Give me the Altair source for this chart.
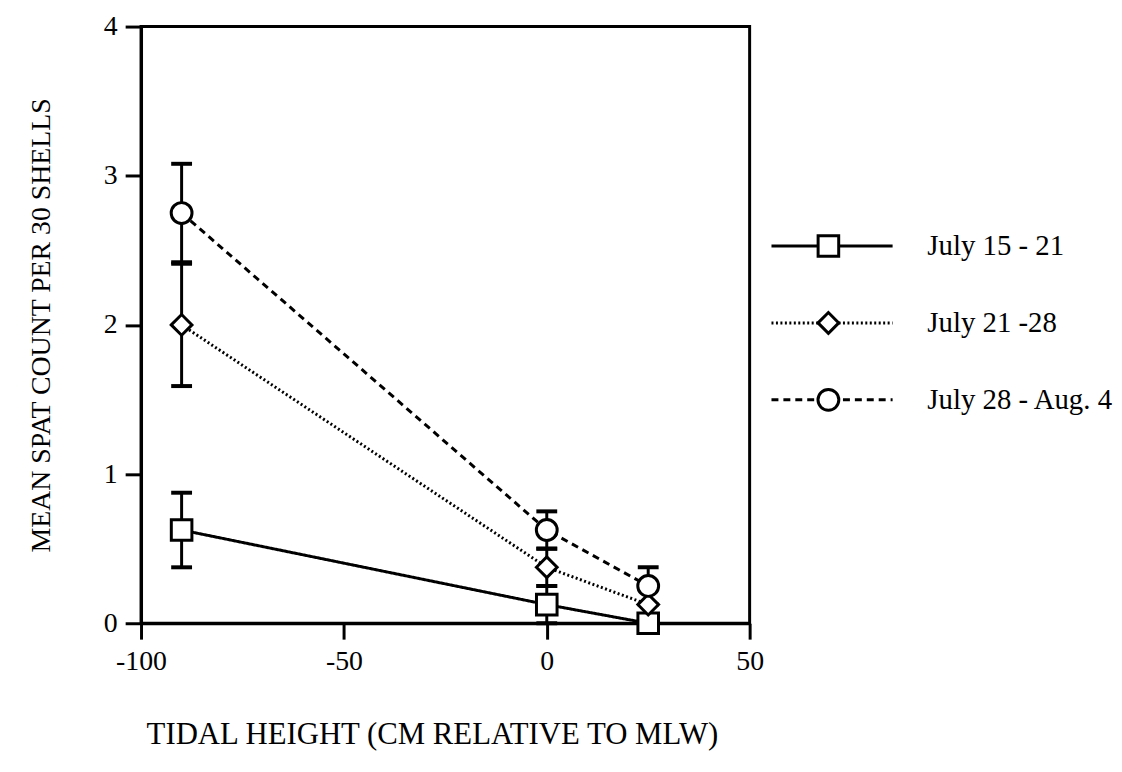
import altair as alt
import pandas as pd

# ---- data ----
tidal = [-90, 0, 25]
series = ["July 15 - 21", "July 21 -28", "July 28 - Aug. 4"]
mean_s1 = [0.625, 0.125, 0.0]
err_s1 = [0.25, 0.125, 0.0]
mean_s2 = [2.0, 0.375, 0.125]
err_s2 = [0.41, 0.125, 0.125]
mean_s3 = [2.75, 0.625, 0.25]
err_s3 = [0.33, 0.125, 0.125]

x_ticks = [-100, -50, 0, 50]
y_ticks = [0, 1, 2, 3, 4]

rows = []
for name, means, errs in zip(series, [mean_s1, mean_s2, mean_s3], [err_s1, err_s2, err_s3]):
    for x, m, e in zip(tidal, means, errs):
        rows.append({"series": name, "x": x, "y": m, "lo": m - e, "hi": m + e, "err": e})
df = pd.DataFrame(rows)
df_err = df[df["err"] > 0]

FONT = "Liberation Serif"
shape_scale = alt.Scale(domain=series, range=["square", "diamond", "circle"])
dash_scale = alt.Scale(domain=series, range=[[1, 0], [2, 2.5], [7, 5]])
size_scale = alt.Scale(domain=series, range=[430, 440, 400])

xs = alt.Scale(domain=[-100, 50], nice=False)
ys = alt.Scale(domain=[0, 4], nice=False)

x_enc = alt.X("x:Q", scale=xs, axis=alt.Axis(
    values=x_ticks, title="TIDAL HEIGHT (CM RELATIVE TO MLW)", grid=False,
    labelExpr="'' + datum.value", labelFlush=False,
    domainColor="black", domainWidth=3, tickColor="black", tickWidth=3, tickSize=16,
    labelFont=FONT, labelFontSize=28, labelColor="black", labelPadding=9,
    titleFont=FONT, titleFontSize=31, titleFontWeight="normal", titleColor="black",
    titlePadding=44, titleX=293))
y_enc = alt.Y("y:Q", scale=ys, axis=alt.Axis(
    values=y_ticks, title="MEAN SPAT COUNT PER 30 SHELLS", grid=False,
    labelExpr="'' + datum.value", labelFlush=False,
    domainColor="black", domainWidth=3, tickColor="black", tickWidth=3, tickSize=16,
    labelFont=FONT, labelFontSize=28, labelColor="black", labelPadding=8,
    titleFont=FONT, titleFontSize=28, titleFontWeight="normal", titleColor="black",
    titlePadding=48))

base = alt.Chart(df)

lines = base.mark_line(color="black", strokeWidth=3).encode(
    x=x_enc, y=y_enc,
    strokeDash=alt.StrokeDash("series:N", scale=dash_scale, legend=None),
    detail="series:N",
)

whisk = alt.Chart(df_err).mark_rule(color="black", strokeWidth=3, opacity=1).encode(
    x="x:Q", y="lo:Q", y2="hi:Q")
cap_lo = alt.Chart(df_err).mark_tick(color="black", thickness=4, size=21, orient="horizontal", opacity=1).encode(
    x="x:Q", y="lo:Q")
cap_hi = alt.Chart(df_err).mark_tick(color="black", thickness=4, size=21, orient="horizontal", opacity=1).encode(
    x="x:Q", y="hi:Q")

pts = base.mark_point(filled=False, fill="white", fillOpacity=1, stroke="black", strokeWidth=3, opacity=1).encode(
    x="x:Q", y="y:Q",
    shape=alt.Shape("series:N", scale=shape_scale, legend=None),
    size=alt.Size("series:N", scale=size_scale, legend=None),
)

main = alt.layer(lines, whisk, cap_lo, cap_hi, pts).properties(
    width=613, height=601,
    view=alt.ViewBackground(stroke="black", strokeWidth=3),
)

# ---- custom legend panel ----
leg_df = pd.DataFrame({"series": series, "row": [0, 1, 2],
                       "x0": [0.0] * 3, "x1": [1.0] * 3, "xm": [0.47] * 3})
lx = alt.Scale(domain=[0, 1], range=[6, 128])
ly = alt.Scale(domain=[0, 2], range=[221, 376])
lbase = alt.Chart(leg_df)
leg_lines = lbase.mark_rule(color="black", strokeWidth=3).encode(
    x=alt.X("x0:Q", scale=lx, axis=None), x2="x1:Q",
    y=alt.Y("row:Q", scale=ly, axis=None),
    strokeDash=alt.StrokeDash("series:N", scale=dash_scale, legend=None),
)
leg_pts = lbase.mark_point(filled=False, fill="white", fillOpacity=1, stroke="black", strokeWidth=3, opacity=1).encode(
    x=alt.X("xm:Q", scale=lx, axis=None),
    y=alt.Y("row:Q", scale=ly, axis=None),
    shape=alt.Shape("series:N", scale=shape_scale, legend=None),
    size=alt.Size("series:N", scale=size_scale, legend=None),
)
leg_text = lbase.mark_text(align="left", baseline="middle", dx=35, font=FONT, fontSize=29, color="black").encode(
    x=alt.X("x1:Q", scale=lx, axis=None),
    y=alt.Y("row:Q", scale=ly, axis=None),
    text="series:N",
)
legend = alt.layer(leg_lines, leg_pts, leg_text).properties(
    width=335, height=601,
    view=alt.ViewBackground(strokeOpacity=0),
)

chart = alt.hconcat(main, legend, spacing=0).properties(
    padding={"left": 18, "top": 0, "right": 0, "bottom": 0}
).configure(background="white").resolve_scale(
    x="independent", y="independent", shape="shared", strokeDash="shared", size="shared")

chart.save("out.html", embed_options={"renderer": "svg", "actions": False})
